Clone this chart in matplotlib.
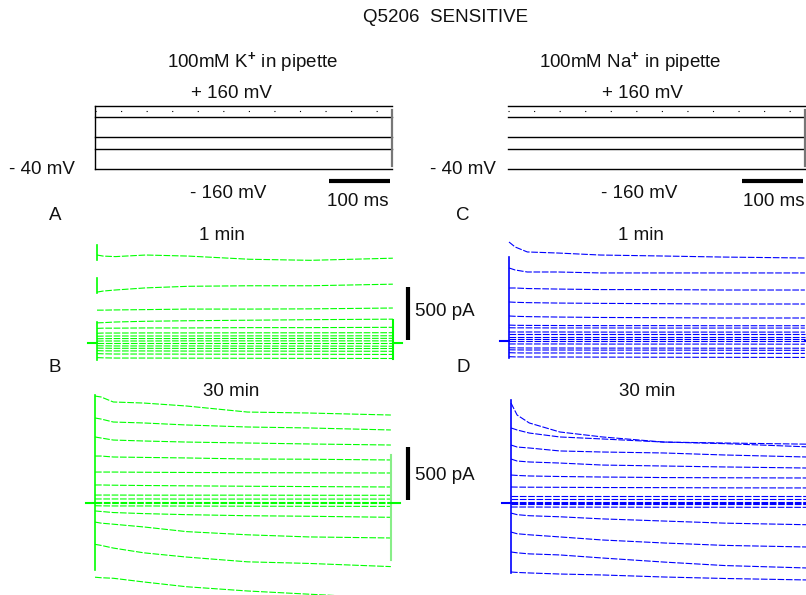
import matplotlib.pyplot as plt

plt.rcParams['font.family'] = ['Liberation Sans', 'DejaVu Sans']
plt.rcParams['mathtext.fontset'] = 'custom'
plt.rcParams['mathtext.rm'] = 'Liberation Sans'
plt.rcParams['mathtext.bf'] = 'Liberation Sans:bold'

W, H = 806, 595
PX_MS = 0.61    # pixels per ms
PX_PA = 0.106   # pixels per pA
PX_MV = 0.315   # pixels per mV

# voltage protocol
prot_t = [0, 487]
prot_mv = [160, 125, 62, 24, -40]
prot_edge = [147, -30]
prot_dots_mv = 144

# sample times of the current traces (ms)
t_ms = [0, 10, 30, 80, 150, 250, 350, 485]
hold_pre = [-15, 0]
hold_post = [485, 500]

# A: 100 mM K+, 1 min (pA)
k_1min = [
    [830, 820, 815, 830, 820, 790, 780, 800],
    [480, 490, 500, 520, 535, 540, 540, 555],
    [310, 310, 312, 315, 320, 320, 322, 330],
    [190, 192, 198, 205, 210, 215, 220, 225],
    [138, 140, 140, 142, 142, 145, 145, 148],
    [92, 94, 94, 95, 95, 96, 96, 97],
    [64, 65, 66, 66, 66, 67, 67, 68],
    [40, 41, 42, 42, 42, 43, 43, 44],
    [18, 19, 19, 19, 20, 20, 20, 20],
    [0, 0, 0, 0, 0, 0, 0, 0],
    [-26, -27, -28, -28, -28, -29, -29, -30],
    [-48, -49, -50, -50, -51, -51, -52, -52],
    [-72, -74, -75, -75, -76, -76, -77, -78],
    [-100, -102, -104, -104, -105, -106, -106, -108],
    [-138, -140, -142, -142, -143, -144, -145, -146],
]
k_1min_onset = [[925, 783], [613, 472], [198, -160]]
k_1min_offset = [215, -150]

# B: 100 mM K+, 30 min
k_30min = [
    [1009, 1000, 953, 943, 915, 858, 849, 830],
    [802, 792, 764, 755, 736, 717, 708, 689],
    [623, 613, 594, 585, 575, 566, 557, 547],
    [443, 443, 434, 430, 425, 415, 413, 406],
    [292, 292, 292, 290, 288, 286, 285, 283],
    [170, 170, 168, 165, 162, 158, 155, 151],
    [75, 75, 75, 74, 74, 74, 73, 73],
    [38, 38, 38, 38, 37, 37, 37, 37],
    [9, 9, 9, 9, 9, 9, 9, 9],
    [0, 0, 0, 0, 0, 0, 0, 0],
    [-26, -27, -28, -28, -29, -30, -31, -32],
    [-75, -80, -90, -100, -110, -120, -125, -135],
    [-180, -190, -200, -226, -270, -300, -320, -330],
    [-390, -400, -425, -470, -510, -555, -570, -600],
    [-700, -705, -710, -745, -790, -830, -860, -900],
]
k_30min_onset = [[1019, -632]]
k_30min_offset = [453, -538]

# C: 100 mM Na+, 1 min
na_1min = [
    [934, 887, 840, 830, 811, 802, 792, 783],
    [689, 670, 651, 651, 642, 642, 642, 642],
    [500, 500, 495, 490, 485, 485, 481, 481],
    [368, 365, 362, 358, 355, 352, 349, 349],
    [236, 233, 230, 226, 222, 220, 217, 217],
    [150, 148, 147, 146, 145, 145, 144, 144],
    [125, 124, 124, 123, 123, 122, 122, 122],
    [85, 85, 85, 85, 84, 84, 84, 84],
    [66, 66, 66, 66, 66, 66, 66, 66],
    [38, 38, 38, 38, 38, 38, 38, 38],
    [19, 19, 19, 19, 19, 19, 19, 19],
    [0, 0, 0, 0, 0, 0, 0, 0],
    [-28, -28, -28, -28, -29, -29, -29, -30],
    [-64, -65, -66, -66, -67, -67, -68, -68],
    [-83, -84, -85, -85, -86, -86, -87, -88],
    [-110, -112, -113, -113, -114, -115, -116, -117],
    [-148, -150, -151, -151, -152, -153, -154, -155],
]
na_1min_onset = [[790, -160]]

# D: 100 mM Na+, 30 min
na_30min = [
    [943, 830, 755, 670, 623, 575, 566, 555],
    [708, 689, 660, 623, 604, 575, 560, 530],
    [547, 528, 519, 491, 481, 472, 453, 434],
    [415, 396, 387, 377, 358, 349, 340, 330],
    [264, 260, 255, 250, 245, 240, 238, 236],
    [151, 150, 149, 148, 146, 145, 143, 142],
    [66, 66, 66, 66, 66, 66, 66, 66],
    [38, 38, 38, 38, 38, 38, 38, 38],
    [9, 9, 9, 9, 9, 9, 9, 9],
    [0, 0, 0, 0, 0, 0, 0, 0],
    [-9, -9, -9, -9, -9, -9, -9, -9],
    [-38, -38, -38, -39, -39, -40, -40, -41],
    [-95, -110, -120, -130, -150, -170, -190, -205],
    [-274, -290, -300, -320, -349, -377, -400, -415],
    [-462, -470, -480, -490, -519, -557, -590, -613],
    [-651, -655, -660, -670, -679, -698, -712, -726],
]
na_30min_onset = [[972, -660]]

scale_ms = [383, 483]
scale_ms_mv = -78
scale_pa = [30, 530]

GREEN = '#00ff00'
BLUE = '#0000ff'
TRACE_STYLE = (0, (6, 1.5))

fig = plt.figure(figsize=(W / 100, H / 100), dpi=100)


def panel(x0, y0, per_unit, left=20, right=320, up=110, down=100):
    # x0, y0: pixel position (from top-left) of t = 0 and of the zero level
    ax = fig.add_axes([(x0 - left) / W, (H - y0 - down) / H,
                       (left + right) / W, (up + down) / H])
    ax.set_xlim(-left / PX_MS, right / PX_MS)
    ax.set_ylim(-down / per_unit, up / per_unit)
    ax.axis('off')
    return ax


def txt(x, y, s, ha='center', **kw):
    fig.text(x / W, 1 - y / H, s, ha=ha, va='center', fontsize=13.5,
             color='#111111', **kw)


def protocol(ax, left_edge):
    for v in prot_mv:
        ax.plot(prot_t, [v, v], color='black', lw=1.0)
    ax.plot(prot_t, [prot_dots_mv, prot_dots_mv], color='black', lw=0.8,
            linestyle=(0, (1, 22)))
    if left_edge:
        ax.plot([prot_t[0], prot_t[0]], [prot_mv[0], prot_mv[-1]],
                color='black', lw=1.0)
    ax.plot([prot_t[1], prot_t[1]], prot_edge, color='#777777', lw=1.6)
    ax.plot(scale_ms, [scale_ms_mv, scale_ms_mv], color='black', lw=3,
            solid_capstyle='butt')


def currents(ax, traces, color, onset, offset=None, offset_color=None):
    for tr in traces:
        ax.plot(t_ms, tr, color=color, lw=0.8, linestyle=TRACE_STYLE)
    for span in onset:
        ax.plot([0, 0], span, color=color, lw=1.2)
    if offset is not None:
        ax.plot([t_ms[-1], t_ms[-1]], offset, color=offset_color or color,
                lw=1.5)
    ax.plot(hold_pre, [0, 0], color=color, lw=1.5)
    ax.plot(hold_post, [0, 0], color=color, lw=1.5)


# protocols
pa = panel(95, 156.4, PX_MV, up=60, down=40)
protocol(pa, True)
pc = panel(508, 156.4, PX_MV, up=60, down=40)
protocol(pc, False)

# current records
axA = panel(97, 343, PX_PA)
currents(axA, k_1min, GREEN, k_1min_onset, k_1min_offset)
axA.plot([510, 510], scale_pa, color='black', lw=3, solid_capstyle='butt')

axB = panel(95, 503, PX_PA)
currents(axB, k_30min, GREEN, k_30min_onset, k_30min_offset, '#88ee88')
axB.plot([513, 513], scale_pa, color='black', lw=3, solid_capstyle='butt')

axC = panel(509, 341, PX_PA)
currents(axC, na_1min, BLUE, na_1min_onset)

axD = panel(511, 503, PX_PA)
currents(axD, na_30min, BLUE, na_30min_onset)

# text
txt(446, 18, 'Q5206  SENSITIVE')
txt(253, 63, r'100mM K$^{\mathbf{+}}$ in pipette')
txt(630, 63, r'100mM Na$^{\mathbf{+}}$ in pipette')
txt(231, 94, '+ 160 mV')
txt(642, 94, '+ 160 mV')
txt(42, 169, '- 40 mV')
txt(463, 169, '- 40 mV')
txt(228, 193, '- 160 mV')
txt(639, 193, '- 160 mV')
txt(358, 201, '100 ms')
txt(774, 201, '100 ms')
txt(55, 215, 'A')
txt(463, 215, 'C')
txt(55, 368, 'B')
txt(463, 368, 'D')
txt(222, 236, '1 min')
txt(641, 236, '1 min')
txt(231, 391, '30 min')
txt(647, 391, '30 min')
txt(415, 312, '500 pA', ha='left')
txt(415, 475, '500 pA', ha='left')

fig.savefig('out.png', dpi=100)
